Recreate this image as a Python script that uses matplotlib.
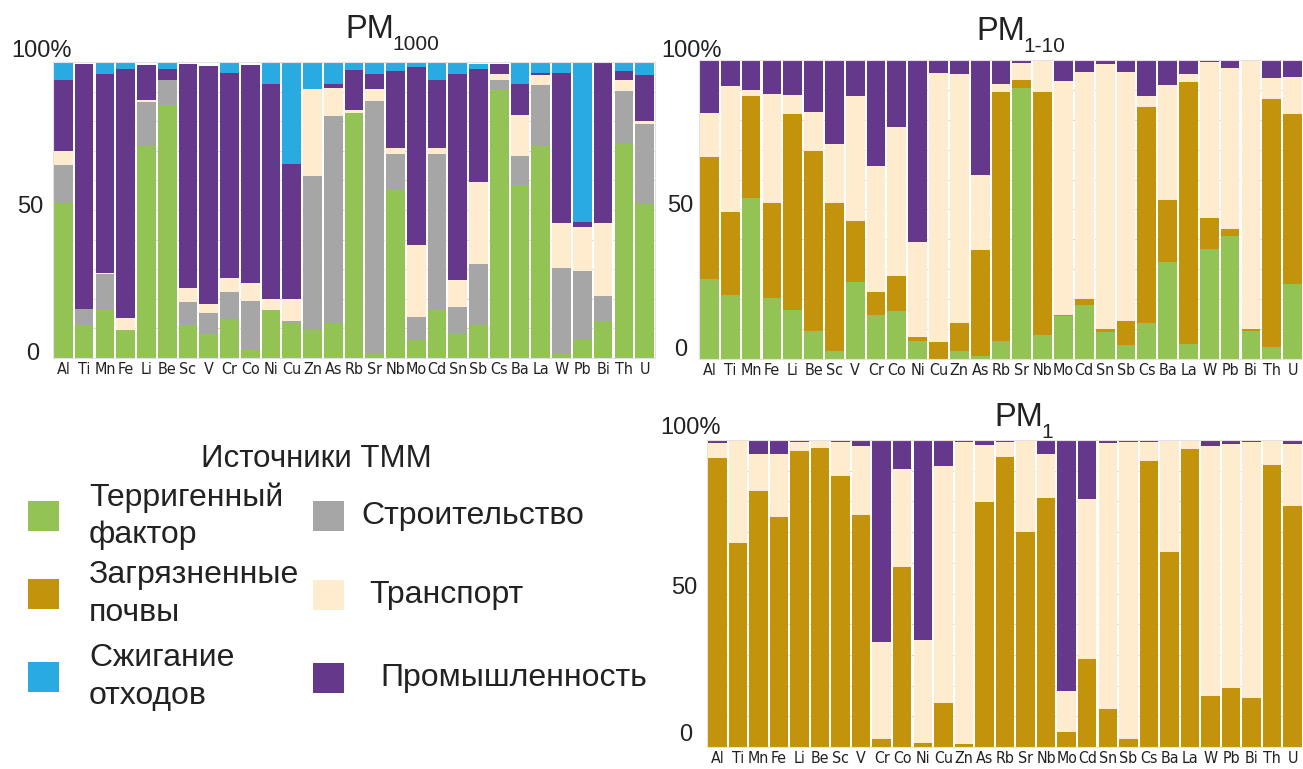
import numpy as np
import matplotlib
matplotlib.use("Agg")
import matplotlib.pyplot as plt
from matplotlib import font_manager
from matplotlib.font_manager import FontProperties

# ---- data -------------------------------------------------------------
elements = ['Al', 'Ti', 'Mn', 'Fe', 'Li', 'Be', 'Sc', 'V', 'Cr', 'Co', 'Ni', 'Cu', 'Zn', 'As',
            'Rb', 'Sr', 'Nb', 'Mo', 'Cd', 'Sn', 'Sb', 'Cs', 'Ba', 'La', 'W', 'Pb', 'Bi', 'Th', 'U']

# PM1000, shares of each source, %
pm1000_terrigenous = [52.5, 11.2, 16.1, 9.3, 71.7, 85.4, 11.0, 8.1, 13.1, 2.6, 16.3, 11.8, 9.6, 11.8,
                      82.8, 1.3, 56.7, 6.2, 16.3, 8.4, 11.2, 90.7, 58.4, 71.6, 1.3, 6.2, 12.4, 72.5, 52.2]
pm1000_construction = [12.7, 5.3, 12.2, 0.0, 14.8, 8.6, 7.9, 7.1, 9.3, 16.5, 0.0, 0.8, 51.9, 69.9,
                       0.0, 85.4, 12.1, 7.6, 52.5, 8.7, 20.5, 3.3, 9.9, 20.5, 29.0, 23.2, 8.7, 17.7, 26.7]
pm1000_transport = [4.7, 0.0, 0.4, 4.2, 0.8, 0.0, 4.7, 3.0, 4.6, 6.4, 3.7, 7.4, 29.5, 9.5,
                    0.9, 4.2, 2.3, 24.4, 2.2, 9.3, 27.9, 2.1, 13.7, 3.4, 15.2, 15.0, 24.4, 3.8, 1.2]
pm1000_industry = [23.9, 82.7, 67.4, 84.3, 11.8, 3.8, 75.8, 80.3, 69.4, 73.6, 72.7, 45.7, 0.0, 1.3,
                   13.7, 5.2, 25.8, 60.1, 22.8, 69.7, 38.2, 3.3, 10.7, 0.9, 50.9, 1.4, 54.2, 2.9, 15.4]
pm1000_waste = [6.2, 0.0, 3.9, 2.2, 0.0, 1.9, 0.0, 0.0, 3.6, 0.0, 7.3, 34.3, 9.0, 7.5,
                2.3, 3.9, 2.6, 1.7, 6.2, 3.9, 1.5, 0.0, 7.3, 3.6, 3.6, 54.2, 0.0, 3.1, 4.5]

# PM1-10
pm110_terrigenous = [26.8, 21.3, 53.8, 20.4, 16.5, 9.5, 2.8, 25.7, 14.8, 16.1, 6.1, 0.0, 2.8, 1.1,
                     6.1, 90.8, 8.1, 14.5, 17.9, 9.0, 4.6, 12.2, 32.6, 5.1, 36.9, 41.2, 9.5, 4.0, 25.2]
pm110_soil = [40.9, 27.8, 34.0, 31.9, 65.3, 59.9, 49.3, 20.3, 7.5, 11.5, 1.1, 5.6, 9.4, 35.2,
              83.1, 2.5, 81.3, 0.2, 2.3, 1.2, 8.2, 72.2, 20.6, 87.4, 10.2, 2.2, 0.7, 83.0, 56.6]
pm110_transport = [14.7, 42.3, 2.2, 36.3, 6.5, 13.3, 19.8, 41.8, 42.4, 50.1, 31.9, 89.9, 83.0, 25.3,
                   2.7, 5.6, 10.3, 78.3, 75.7, 88.4, 83.1, 3.7, 38.4, 2.7, 52.1, 54.0, 89.5, 6.9, 12.6]
pm110_industry = [17.6, 8.6, 10.0, 11.4, 11.7, 17.3, 28.1, 12.2, 35.3, 22.3, 60.9, 4.5, 4.8, 38.4,
                  8.1, 1.1, 0.3, 7.0, 4.1, 1.4, 4.1, 11.9, 8.4, 4.8, 0.8, 2.6, 0.3, 6.1, 5.6]

# PM1
pm1_soil = [94.0, 66.5, 83.4, 74.8, 96.5, 97.5, 88.3, 75.5, 2.5, 58.7, 1.3, 14.3, 0.9, 79.9,
            94.6, 70.1, 81.0, 4.9, 28.8, 12.5, 2.5, 93.3, 63.4, 97.0, 16.5, 19.3, 15.8, 91.8, 78.5]
pm1_transport = [5.1, 33.3, 11.9, 20.5, 2.8, 2.3, 11.0, 22.5, 31.7, 31.7, 33.7, 77.2, 98.6, 18.5,
                 4.9, 29.7, 14.3, 13.4, 51.9, 86.6, 97.0, 6.0, 36.4, 2.8, 81.5, 79.4, 83.5, 8.0, 20.2]
pm1_industry = [0.9, 0.2, 4.7, 4.7, 0.7, 0.2, 0.7, 2.0, 65.8, 9.6, 65.0, 8.5, 0.5, 1.6,
                0.5, 0.2, 4.7, 81.7, 19.3, 0.9, 0.5, 0.7, 0.2, 0.2, 2.0, 1.3, 0.7, 0.2, 1.3]

source_names = {
    'terr': 'Терригенный\nфактор',
    'soil': 'Загрязненные\nпочвы',
    'waste': 'Сжигание\nотходов',
    'constr': 'Строительство',
    'transp': 'Транспорт',
    'ind': 'Промышленность',
}
legend_title = 'Источники ТММ'

# ---- style ------------------------------------------------------------
COL = {
    'terr': '#93C355',
    'soil': '#C3930B',
    'waste': '#29ABE2',
    'constr': '#A6A6A6',
    'transp': '#FFEBCD',
    'ind': '#66388B',
}
TEXT_COLOR = '#222222'

available = {f.name for f in font_manager.fontManager.ttflist}
MAIN_FONT = 'Liberation Sans' if 'Liberation Sans' in available else 'DejaVu Sans'
plt.rcParams['font.family'] = [MAIN_FONT, 'DejaVu Sans']


def pick_narrow_font():
    """Look for an installed condensed sans face for the element labels."""
    rank = {'ultra-condensed': 0, 'extra-condensed': 1, 'condensed': 2, 'semi-condensed': 3}
    best = None
    for f in font_manager.fontManager.ttflist:
        name = f.name.lower()
        narrow_name = any(k in name for k in ('narrow', 'condensed'))
        stretch = f.stretch if isinstance(f.stretch, str) else ''
        if stretch not in rank and not narrow_name:
            continue
        if 'mono' in name or 'serif' in name and 'sans' not in name or 'cjk' in name:
            continue
        if f.style != 'normal' or f.weight not in (400, 'normal', 'regular', 'book'):
            continue
        r = rank.get(stretch, 2)
        if 'liberation' in name:
            r -= 0.5
        if best is None or r < best[0]:
            best = (r, f.fname)
    if best is None:
        return FontProperties(family=MAIN_FONT)
    return FontProperties(fname=best[1])


NARROW = pick_narrow_font()

W, H = 1303, 769
fig = plt.figure(figsize=(W / 100, H / 100), dpi=100)


def px_axes(left, top, right, bottom):
    return fig.add_axes([left / W, 1 - bottom / H, (right - left) / W, (bottom - top) / H])


def ftext(x, y, s, **kw):
    return fig.text(x / W, 1 - y / H, s, **kw)


def stacked(ax, layers):
    x = np.arange(len(elements))
    base = np.zeros(len(elements))
    for key, vals in layers:
        v = np.asarray(vals, dtype=float)
        ax.bar(x, v, bottom=base, width=0.9, color=COL[key], linewidth=0, zorder=2)
        base += v
    ax.set_xlim(-0.5, len(elements) - 0.5)
    ax.set_ylim(0, 100)
    ax.set_yticks(np.arange(10, 100, 10))
    ax.yaxis.grid(True, color='#d8d8d8', linewidth=0.8, linestyle=(0, (2, 2)), zorder=0)
    ax.tick_params(axis='y', length=0, labelleft=False)
    ax.set_xticks(x)
    labels = ax.set_xticklabels(elements, fontproperties=NARROW, color=TEXT_COLOR)
    for t in labels:
        t.set_fontsize(17)
    ax.tick_params(axis='x', length=0, pad=3)
    for s in ax.spines.values():
        s.set_color('#e2e2e2')
        s.set_linewidth(0.8)
    return ax


def fit_labels(ax):
    """Shrink the element labels until neighbouring ones just touch."""
    fig.canvas.draw()
    r = fig.canvas.get_renderer()
    slot = ax.get_window_extent(r).width / len(elements)
    labels = ax.get_xticklabels()
    w = [t.get_window_extent(r).width for t in labels]
    need = max((w[i] + w[i + 1]) / 2 for i in range(len(w) - 1))
    if need > slot * 0.99:
        size = labels[0].get_fontsize() * slot * 0.99 / need
        for t in labels:
            t.set_fontsize(size)


# ---- PM1000 -----------------------------------------------------------
ax1 = stacked(px_axes(53, 62, 655, 358),
              [('terr', pm1000_terrigenous), ('constr', pm1000_construction),
               ('transp', pm1000_transport), ('ind', pm1000_industry), ('waste', pm1000_waste)])

# ---- PM1-10 -----------------------------------------------------------
ax2 = stacked(px_axes(699, 60, 1303, 359),
              [('terr', pm110_terrigenous), ('soil', pm110_soil),
               ('transp', pm110_transport), ('ind', pm110_industry)])

# ---- PM1 --------------------------------------------------------------
ax3 = stacked(px_axes(707, 440, 1303, 747),
              [('soil', pm1_soil), ('transp', pm1_transport), ('ind', pm1_industry)])

for ax in (ax1, ax2, ax3):
    fit_labels(ax)

# y labels
ylab = dict(fontsize=17, va='center', ha='left', color=TEXT_COLOR)
for (x100, y100), (x50, y50), (x0, y0) in [((11, 51), (17, 207), (26, 354)),
                                           ((661, 51), (667, 206), (674, 350)),
                                           ((660, 428), (671, 588), (679, 735))]:
    ftext(x100, y100, '100%', **ylab)
    ftext(x50, y50, '50', **ylab)
    ftext(x0, y0, '0', **ylab)

# panel titles: "PM" with a subscript
for x, y, sub in [(345, 29, '1000'), (976, 32, '1-10'), (994, 417, '1')]:
    ftext(x, y, 'PM', fontsize=23.5, va='center', ha='left', color=TEXT_COLOR)
    ftext(x + 47, y + 15, sub, fontsize=15, va='center', ha='left', color=TEXT_COLOR)

# ---- legend -----------------------------------------------------------
ftext(316, 459, legend_title, fontsize=22.5, ha='center', va='center', color=TEXT_COLOR)


def patch(x0, y0, x1, y1, key):
    fig.patches.append(plt.Rectangle((x0 / W, 1 - y1 / H), (x1 - x0) / W, (y1 - y0) / H,
                                     transform=fig.transFigure, facecolor=COL[key],
                                     edgecolor='none'))


leg_font = dict(fontsize=23, va='center', ha='left', color=TEXT_COLOR, linespacing=1.32)
for key, yc in [('terr', 516), ('soil', 594), ('waste', 677)]:
    patch(28, yc - 15, 59, yc + 15, key)
    ftext(89, yc, source_names[key], **leg_font)
for key, yc, xt in [('constr', 516, 361), ('transp', 595, 369), ('ind', 678, 380)]:
    patch(313, yc - 15, 344, yc + 15, key)
    ftext(xt, yc, source_names[key], **leg_font)

fig.savefig('out.png', dpi=100)
